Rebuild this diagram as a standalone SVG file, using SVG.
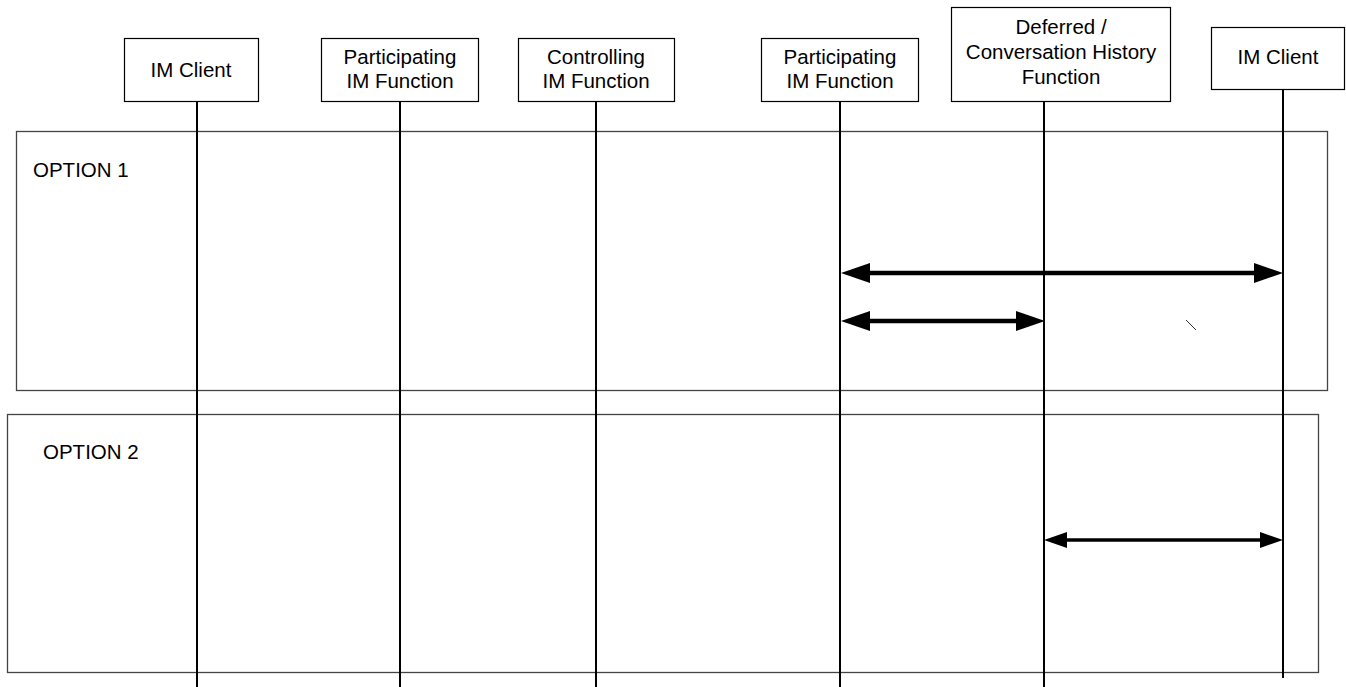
<svg xmlns="http://www.w3.org/2000/svg" width="1346" height="687" viewBox="0 0 1346 687">
<style>
.box{fill:#fff;stroke:#000;stroke-width:1.2}
.opt{fill:none;stroke:#444;stroke-width:1.3}
.life{stroke:#000;stroke-width:2}
.t{font-family:"Liberation Sans",Arial,sans-serif;font-size:20.5px;fill:#000;text-anchor:middle}
.tl{font-family:"Liberation Sans",Arial,sans-serif;font-size:20.5px;fill:#000}
.a1{stroke:#000;stroke-width:4.5;fill:none;marker-start:url(#hb);marker-end:url(#hb)}
.a2{stroke:#000;stroke-width:3.5;fill:none;marker-start:url(#hs);marker-end:url(#hs)}
</style>
<defs>
<marker id="hb" markerUnits="userSpaceOnUse" markerWidth="29" markerHeight="20" viewBox="0 0 29 20" refX="19" refY="10" orient="auto-start-reverse"><path d="M0,0 L29,10 L0,20 z" fill="#000"/></marker>
<marker id="hs" markerUnits="userSpaceOnUse" markerWidth="23" markerHeight="16" viewBox="0 0 23 16" refX="15" refY="8" orient="auto-start-reverse"><path d="M0,0 L23,8 L0,16 z" fill="#000"/></marker>
</defs>
<rect width="1346" height="687" fill="#fff"/>
<g id="option1">
<rect class="opt" x="16.5" y="131.5" width="1311" height="259"/>
<text class="tl" x="33" y="177">OPTION 1</text>
</g>
<g id="option2">
<rect class="opt" x="7.5" y="414.5" width="1311" height="258"/>
<text class="tl" x="43" y="459">OPTION 2</text>
</g>
<g id="lifelines">
<line class="life" x1="197" y1="101" x2="197" y2="687"/>
<line class="life" x1="400" y1="101" x2="400" y2="687"/>
<line class="life" x1="596" y1="101" x2="596" y2="687"/>
<line class="life" x1="840" y1="101" x2="840" y2="687"/>
<line class="life" x1="1044" y1="101" x2="1044" y2="687"/>
<line class="life" x1="1283" y1="89" x2="1283" y2="678"/>
</g>
<g id="n1">
<rect class="box" x="124.5" y="38.5" width="134" height="63"/>
<text class="t" x="191" y="77">IM Client</text>
</g>
<g id="n2">
<rect class="box" x="321.5" y="38.5" width="157" height="63"/>
<text class="t" x="400" y="64">Participating</text>
<text class="t" x="400" y="88">IM Function</text>
</g>
<g id="n3">
<rect class="box" x="518.5" y="38.5" width="156" height="63"/>
<text class="t" x="596" y="64">Controlling</text>
<text class="t" x="596" y="88">IM Function</text>
</g>
<g id="n4">
<rect class="box" x="761.5" y="38.5" width="157" height="63"/>
<text class="t" x="840" y="64">Participating</text>
<text class="t" x="840" y="88">IM Function</text>
</g>
<g id="n5">
<rect class="box" x="951.5" y="7.5" width="219" height="94"/>
<text class="t" x="1061" y="34">Deferred /</text>
<text class="t" x="1061" y="59">Conversation History</text>
<text class="t" x="1061" y="84">Function</text>
</g>
<g id="n6">
<rect class="box" x="1211.5" y="27.5" width="133" height="62"/>
<text class="t" x="1278" y="64">IM Client</text>
</g>
<g id="connectors">
<line class="a1" x1="851" y1="273" x2="1273" y2="273"/>
<line class="a1" x1="851" y1="321" x2="1035" y2="321"/>
<line class="a2" x1="1052" y1="540" x2="1275" y2="540"/>
<line x1="1186" y1="320" x2="1196" y2="330" stroke="#333" stroke-width="1"/>
</g>
</svg>
